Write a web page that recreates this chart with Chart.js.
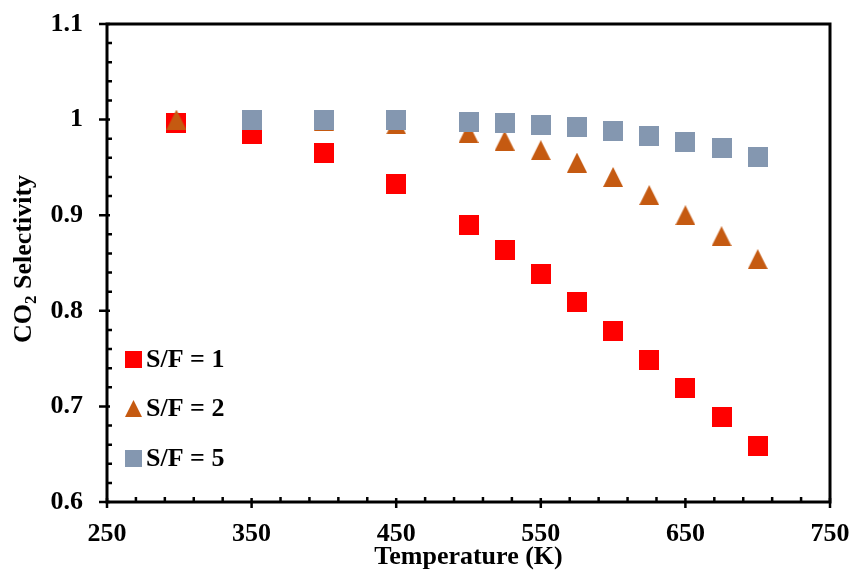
<!DOCTYPE html>
<html>
<head>
<meta charset="utf-8">
<script src="https://cdn.jsdelivr.net/npm/chart.js@4.4.1/dist/chart.umd.min.js"></script>
<style>
  html, body { margin: 0; padding: 0; background: #fff; }
  #wrap { width: 853px; height: 573px; }
</style>
</head>
<body>
<div id="wrap"><canvas id="chart"></canvas></div>
<script>
// temperatures (K) and CO2 selectivity for each steam/feed ratio
const temps = [298, 350, 400, 450, 500, 525, 550, 575, 600, 625, 650, 675, 700];
const sf1 = [0.996, 0.985, 0.965, 0.933, 0.890, 0.864, 0.838, 0.809, 0.779, 0.749, 0.719, 0.689, 0.659];
const sf2 = [1.000, 1.000, 0.999, 0.995, 0.986, 0.978, 0.968, 0.955, 0.940, 0.921, 0.900, 0.878, 0.854];
const sf5 = [null, 1.000, 1.000, 1.000, 0.998, 0.996, 0.994, 0.992, 0.988, 0.983, 0.977, 0.970, 0.961];
const seriesNames = ['S/F = 1', 'S/F = 2', 'S/F = 5'];

const xTicks = [250, 350, 450, 550, 650, 750];
const yTicks = [0.6, 0.7, 0.8, 0.9, 1.0, 1.1];

const RED = '#FF0000';
const ORANGE = '#C55A11';
const GRAY = '#8497B0';
const FONT = 'Liberation Serif, Times New Roman, serif';

function makeMarker(shape, size, color) {
  const c = document.createElement('canvas');
  c.width = size;
  c.height = size;
  const g = c.getContext('2d');
  g.fillStyle = color;
  if (shape === 'square') {
    g.fillRect(0, 0, size, size);
  } else {
    g.beginPath();
    g.moveTo(size / 2, 0);
    g.lineTo(size, size);
    g.lineTo(0, size);
    g.closePath();
    g.fill();
  }
  return c;
}

const markers = [
  makeMarker('square', 20, RED),
  makeMarker('triangle', 20, ORANGE),
  makeMarker('square', 20, GRAY)
];
const legendMarkers = [
  makeMarker('square', 17, RED),
  makeMarker('triangle', 17, ORANGE),
  makeMarker('square', 17, GRAY)
];

function toPoints(vals) {
  const pts = [];
  temps.forEach((t, i) => {
    if (vals[i] !== null) pts.push({ x: t, y: vals[i] });
  });
  return pts;
}

// frame, tick marks, y title and the legend box
const decorations = {
  id: 'decorations',
  afterDraw(chart) {
    const { ctx, chartArea: a, scales } = chart;
    const xs = scales.x, ys = scales.y;
    ctx.save();
    ctx.strokeStyle = '#000';

    ctx.lineWidth = 2.5;
    ctx.beginPath();
    for (let v = 250; v <= 750; v += 20) {
      const px = xs.getPixelForValue(v);
      if ((v - 250) % 100 === 0) {
        ctx.moveTo(px, a.bottom - 4);
        ctx.lineTo(px, a.bottom + 6);
      } else {
        ctx.moveTo(px, a.bottom);
        ctx.lineTo(px, a.bottom - 5);
      }
    }
    for (let k = 0; k <= 25; k++) {
      const py = ys.getPixelForValue(0.6 + k * 0.02);
      if (k % 5 === 0) {
        ctx.moveTo(a.left - 8, py);
        ctx.lineTo(a.left + 3, py);
      } else {
        ctx.moveTo(a.left, py);
        ctx.lineTo(a.left + 5, py);
      }
    }
    ctx.stroke();

    ctx.lineWidth = 3;
    ctx.strokeRect(a.left, a.top, a.right - a.left, a.bottom - a.top);

    // y axis title with subscript
    ctx.fillStyle = '#000';
    ctx.textBaseline = 'alphabetic';
    const big = 'bold 26px ' + FONT;
    const small = 'bold 17px ' + FONT;
    ctx.font = big;
    const wCO = ctx.measureText('CO').width;
    const wRest = ctx.measureText(' Selectivity').width;
    ctx.font = small;
    const w2 = ctx.measureText('2').width;
    const total = wCO + w2 + wRest;
    ctx.translate(31, (a.top + a.bottom) / 2 - 4);
    ctx.rotate(-Math.PI / 2);
    let x0 = -total / 2;
    ctx.font = big;
    ctx.fillText('CO', x0, 0);
    ctx.font = small;
    ctx.fillText('2', x0 + wCO, 5);
    ctx.font = big;
    ctx.fillText(' Selectivity', x0 + wCO + w2, 0);
    ctx.setTransform(1, 0, 0, 1, 0, 0);

    // legend inside the plot area
    ctx.font = big;
    ctx.textBaseline = 'middle';
    ctx.textAlign = 'left';
    const rowY = [359, 408.5, 458];
    seriesNames.forEach((name, i) => {
      const m = legendMarkers[i];
      ctx.drawImage(m, 125, rowY[i] - m.height / 2);
      ctx.fillText(name, 146, rowY[i] + 1);
    });
    ctx.restore();
  }
};

new Chart(document.getElementById('chart'), {
  type: 'scatter',
  data: {
    datasets: [
      { label: seriesNames[0], data: toPoints(sf1), pointStyle: markers[0], order: 3 },
      { label: seriesNames[1], data: toPoints(sf2), pointStyle: markers[1], order: 2 },
      { label: seriesNames[2], data: toPoints(sf5), pointStyle: markers[2], order: 1 }
    ]
  },
  plugins: [decorations],
  options: {
    responsive: true,
    maintainAspectRatio: false,
    animation: false,
    layout: { padding: { top: 24, right: 23, left: 0, bottom: 0 } },
    plugins: {
      legend: { display: false },
      tooltip: { enabled: false }
    },
    scales: {
      x: {
        type: 'linear',
        min: 250,
        max: 750,
        afterBuildTicks(scale) { scale.ticks = xTicks.map(v => ({ value: v })); },
        afterFit(scale) {
          scale.height = 71;
          scale.paddingLeft = 0;
          scale.paddingRight = 0;
        },
        grid: { display: false, drawTicks: false },
        border: { display: false },
        ticks: {
          autoSkip: false,
          maxRotation: 0,
          padding: 17,
          color: '#000',
          font: { family: FONT, size: 26, weight: 'bold' }
        },
        title: {
          display: true,
          text: 'Temperature (K)',
          color: '#000',
          padding: 0,
          font: { family: FONT, size: 26, weight: 'bold' }
        }
      },
      y: {
        min: 0.6,
        max: 1.1,
        afterBuildTicks(scale) { scale.ticks = yTicks.map(v => ({ value: v })); },
        afterFit(scale) {
          scale.width = 107;
          scale.paddingTop = 0;
          scale.paddingBottom = 0;
        },
        grid: { display: false, drawTicks: false },
        border: { display: false },
        ticks: {
          autoSkip: false,
          padding: 24,
          color: '#000',
          font: { family: FONT, size: 26, weight: 'bold' },
          callback: v => String(Number(v.toFixed(2)))
        }
      }
    }
  }
});
</script>
</body>
</html>
